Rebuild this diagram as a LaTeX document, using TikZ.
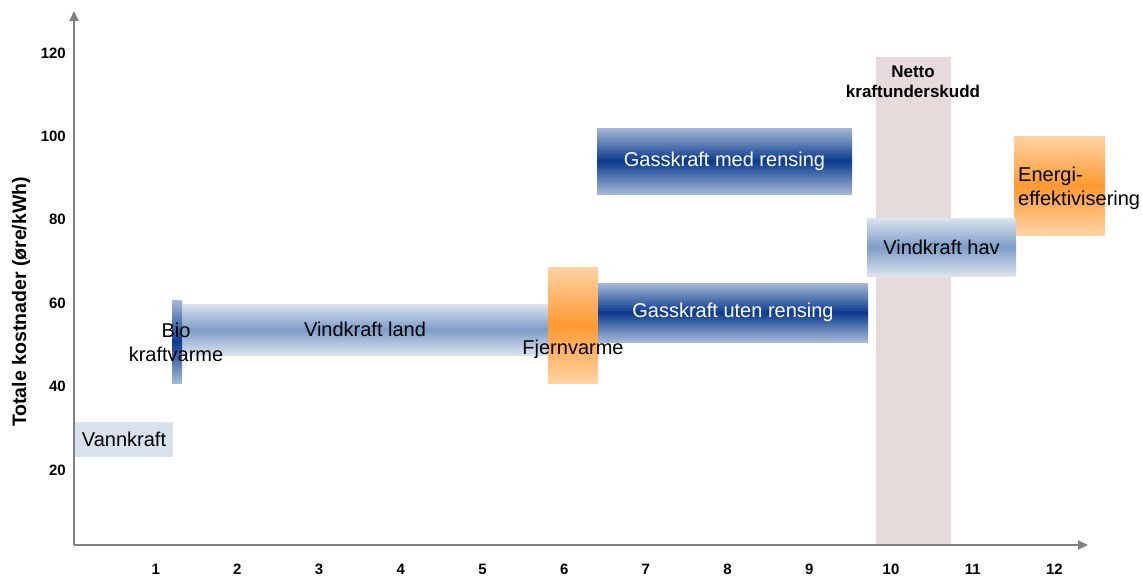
\documentclass[tikz,border=0pt]{standalone}
\usepackage{fontspec}
\setmainfont{Liberation Sans}
\usetikzlibrary{arrows.meta}
\definecolor{axisgray}{HTML}{808080}
\definecolor{gasedge}{HTML}{A5B9D6}
\definecolor{gasdark}{HTML}{0B3A8E}
\definecolor{windedge}{HTML}{DCE3EF}
\definecolor{windmid}{HTML}{7D9DC8}
\definecolor{heatedge}{HTML}{FFD3A3}
\definecolor{heatmid}{HTML}{FF9933}
\definecolor{nettofill}{HTML}{E7DADA}
\definecolor{vannfill}{HTML}{D9E1EC}
\begin{document}
\begin{tikzpicture}[x=1pt, y=-1pt,
    bar/.style={inner sep=0pt, outer sep=0pt, font=\fontsize{20}{24}\selectfont},
    gasbar/.style={bar, top color=gasedge, bottom color=gasedge, middle color=gasdark, text=white},
    windbar/.style={bar, top color=windedge, bottom color=windedge, middle color=windmid},
    heatbar/.style={bar, top color=heatedge, bottom color=heatedge, middle color=heatmid},
    label/.style={inner sep=0pt, font=\fontsize{20}{24}\selectfont},
    tick/.style={inner sep=0pt, font=\fontsize{15}{15}\selectfont\bfseries},
    axis/.style={draw=axisgray, line width=2pt, -{Triangle[length=10pt,width=9pt]}}]
\useasboundingbox (0,0) rectangle (1142,576);
\node[bar, fill=nettofill, minimum width=75, minimum height=488] (netto) at (913.5,301) {};
\node[align=center, inner sep=0pt, font=\fontsize{17}{20}\selectfont\bfseries] (nettotext) at (913,82) {Netto\\kraftunderskudd};
\coordinate (o) at (74,545);
\coordinate (xend) at (1088,545);
\coordinate (yend) at (74,11);
\draw[axis] (o) -- (xend);
\draw[axis] (o) -- (yend);
\foreach \i in {1,...,12}
    \node[tick] (x\i) at ({74+81.7*\i},569) {\i};
\foreach \v in {20,40,...,120}
    \node[tick, anchor=east] (y\v) at (66,{553.4-4.17*\v}) {\v};
\node[rotate=90, inner sep=0pt, font=\fontsize{19.5}{20}\selectfont\bfseries] (ytitle) at (21,302) {Totale kostnader (øre/kWh)};
\node[bar, fill=vannfill, minimum width=98, minimum height=35] (vann) at (124,439.5) {Vannkraft};
\node[windbar, minimum width=366, minimum height=51] (land) at (365,329.5) {Vindkraft land};
\node[bar, top color=gasedge, bottom color=gasedge, middle color=gasdark, minimum width=10, minimum height=83] (bio) at (177,341.5) {};
\node[label, align=center] (biotext) at (176,342) {Bio\\kraftvarme};
\node[heatbar, minimum width=50, minimum height=116] (fjern) at (573,325) {};
\node[label] (fjerntext) at (573,349) {Fjernvarme};
\node[gasbar, minimum width=270, minimum height=59] (gasuten) at (733,312.5) {Gasskraft uten rensing};
\node[gasbar, minimum width=255, minimum height=66] (gasmed) at (724.5,161) {Gasskraft med rensing};
\node[heatbar, minimum width=91, minimum height=99] (energi) at (1059.5,185.5) {};
\node[windbar, minimum width=149, minimum height=58] (hav) at (941.5,247) {Vindkraft hav};
\node[label, align=left, anchor=west] (energitext) at (1018,188) {Energi-\\effektivisering};
\end{tikzpicture}
\end{document}
